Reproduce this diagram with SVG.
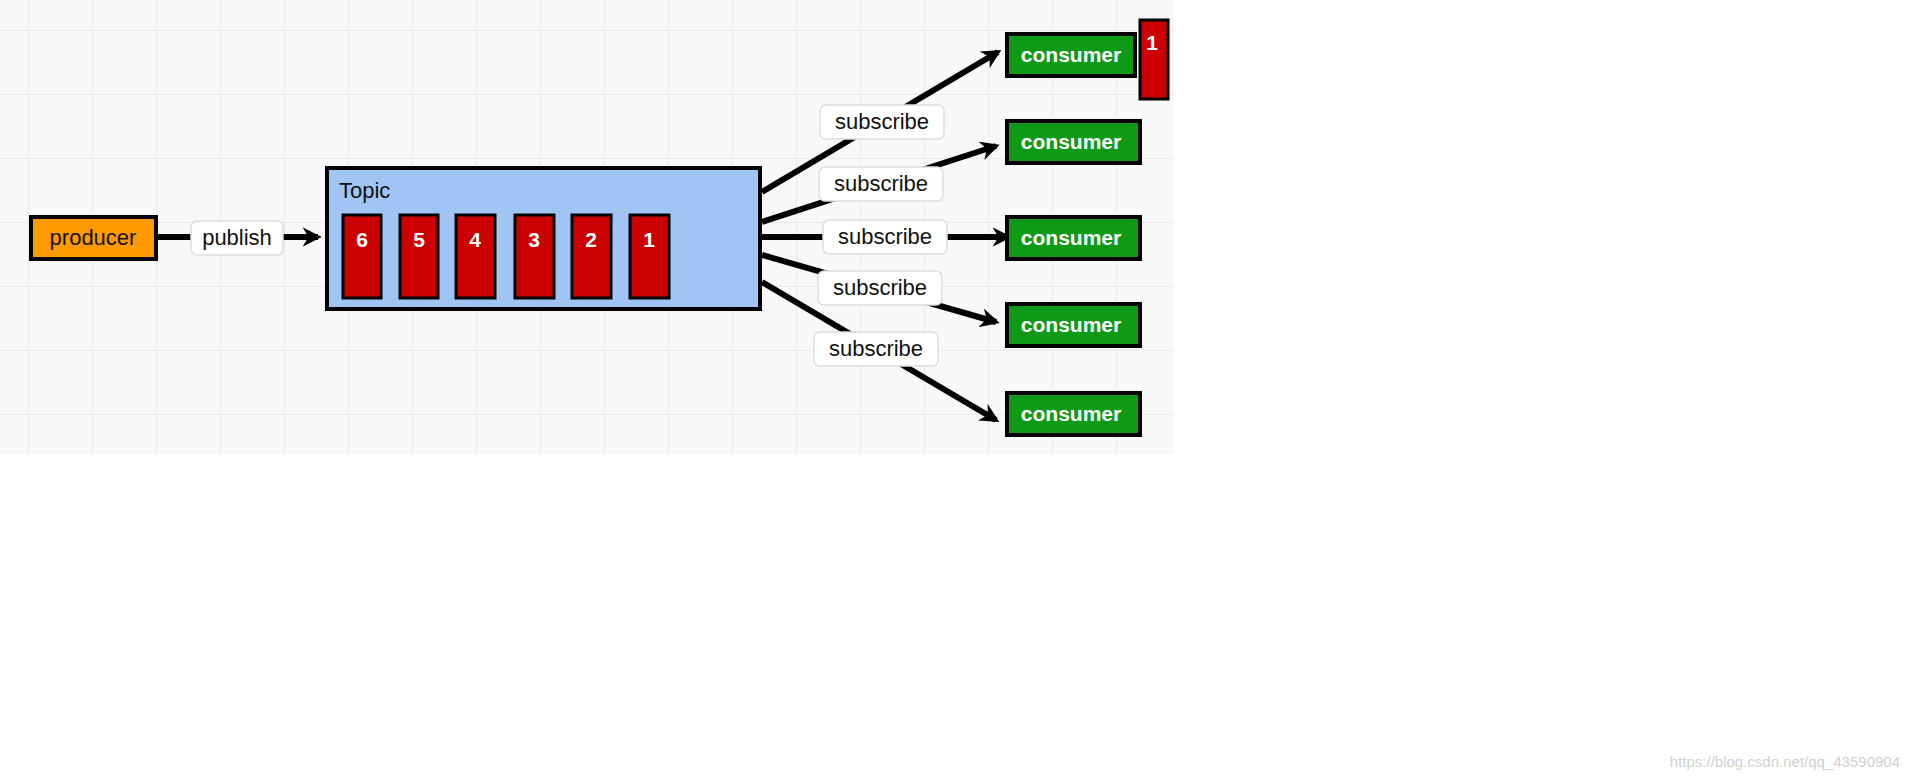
<svg xmlns="http://www.w3.org/2000/svg" width="1913" height="778" viewBox="0 0 1913 778">
<defs>
<pattern id="grid" width="64" height="64" patternUnits="userSpaceOnUse" x="28" y="30">
<rect width="64" height="64" fill="#f8f8f8"/>
<path d="M0 0H64M0 0V64" stroke="#e9e9e9" stroke-width="2" fill="none"/>
</pattern>
<marker id="ah" viewBox="0 0 10 10" refX="8" refY="5" markerWidth="3.2" markerHeight="3.2" orient="auto">
<path d="M0 0L10 5L0 10L3 5Z" fill="#000"/>
</marker>
<style>
text{font-family:"Liberation Sans",Arial,sans-serif;}
.lbl rect{fill:#fff;stroke:#ddd;stroke-width:1.5}
.lbl text{font-size:22px;fill:#111;text-anchor:middle}
.cons rect{fill:#0e9a17;stroke:#000;stroke-width:4}
.cons text{font-size:21px;font-weight:bold;fill:#fff;text-anchor:middle}
.cell rect{fill:#cc0000;stroke:#000;stroke-width:3}
.cell text{font-size:21px;font-weight:bold;fill:#fff;text-anchor:middle}
.conn path{stroke:#000;stroke-width:6;fill:none;marker-end:url(#ah)}
</style>
</defs>
<rect width="1913" height="778" fill="#fff"/>
<rect x="0" y="0" width="1174" height="454" fill="url(#grid)"/>
<g id="connectors" class="conn">
<path d="M158 237H318"/>
<path d="M762 192L998 52"/>
<path d="M762 222L996 146"/>
<path d="M762 237H1008"/>
<path d="M762 255L996 322"/>
<path d="M762 282L996 420"/>
</g>
<g id="producer"><rect x="31" y="217" width="125" height="42" fill="#ff9900" stroke="#000" stroke-width="4"/><text x="93" y="245" font-size="22" text-anchor="middle" fill="#111">producer</text></g>
<g id="topic"><rect x="327" y="168" width="433" height="141" fill="#a0c5f5" stroke="#000" stroke-width="4"/><text x="339" y="198" font-size="22" fill="#111">Topic</text></g>
<g id="cell6" class="cell"><rect x="343" y="215" width="38" height="83"/><text x="362" y="247">6</text></g>
<g id="cell5" class="cell"><rect x="400" y="215" width="38" height="83"/><text x="419" y="247">5</text></g>
<g id="cell4" class="cell"><rect x="456" y="215" width="39" height="83"/><text x="475" y="247">4</text></g>
<g id="cell3" class="cell"><rect x="515" y="215" width="39" height="83"/><text x="534" y="247">3</text></g>
<g id="cell2" class="cell"><rect x="572" y="215" width="39" height="83"/><text x="591" y="247">2</text></g>
<g id="cell1" class="cell"><rect x="630" y="215" width="39" height="83"/><text x="649" y="247">1</text></g>
<g id="lbl-publish" class="lbl"><rect x="191" y="221" width="92" height="34" rx="6"/><text x="237" y="245">publish</text></g>
<g id="lbl-s1" class="lbl"><rect x="820" y="105" width="124" height="34" rx="6"/><text x="882" y="129">subscribe</text></g>
<g id="lbl-s2" class="lbl"><rect x="819" y="167" width="124" height="34" rx="6"/><text x="881" y="191">subscribe</text></g>
<g id="lbl-s3" class="lbl"><rect x="823" y="220" width="124" height="34" rx="6"/><text x="885" y="244">subscribe</text></g>
<g id="lbl-s4" class="lbl"><rect x="818" y="271" width="124" height="34" rx="6"/><text x="880" y="295">subscribe</text></g>
<g id="lbl-s5" class="lbl"><rect x="814" y="332" width="124" height="34" rx="6"/><text x="876" y="356">subscribe</text></g>
<g id="consumer1" class="cons"><rect x="1007" y="34" width="128" height="42"/><text x="1071" y="62">consumer</text></g>
<g id="consumer2" class="cons"><rect x="1007" y="121" width="133" height="42"/><text x="1071" y="149">consumer</text></g>
<g id="consumer3" class="cons"><rect x="1007" y="217" width="133" height="42"/><text x="1071" y="245">consumer</text></g>
<g id="consumer4" class="cons"><rect x="1007" y="304" width="133" height="42"/><text x="1071" y="332">consumer</text></g>
<g id="consumer5" class="cons"><rect x="1007" y="393" width="133" height="42"/><text x="1071" y="421">consumer</text></g>
<g id="msg1" class="cell"><rect x="1140" y="20" width="28" height="79"/><text x="1152" y="50" font-size="19" font-weight="normal">1</text></g>
<text x="1900" y="767" font-size="15" fill="#d0d0d0" text-anchor="end">https://blog.csdn.net/qq_43590904</text>
</svg>
